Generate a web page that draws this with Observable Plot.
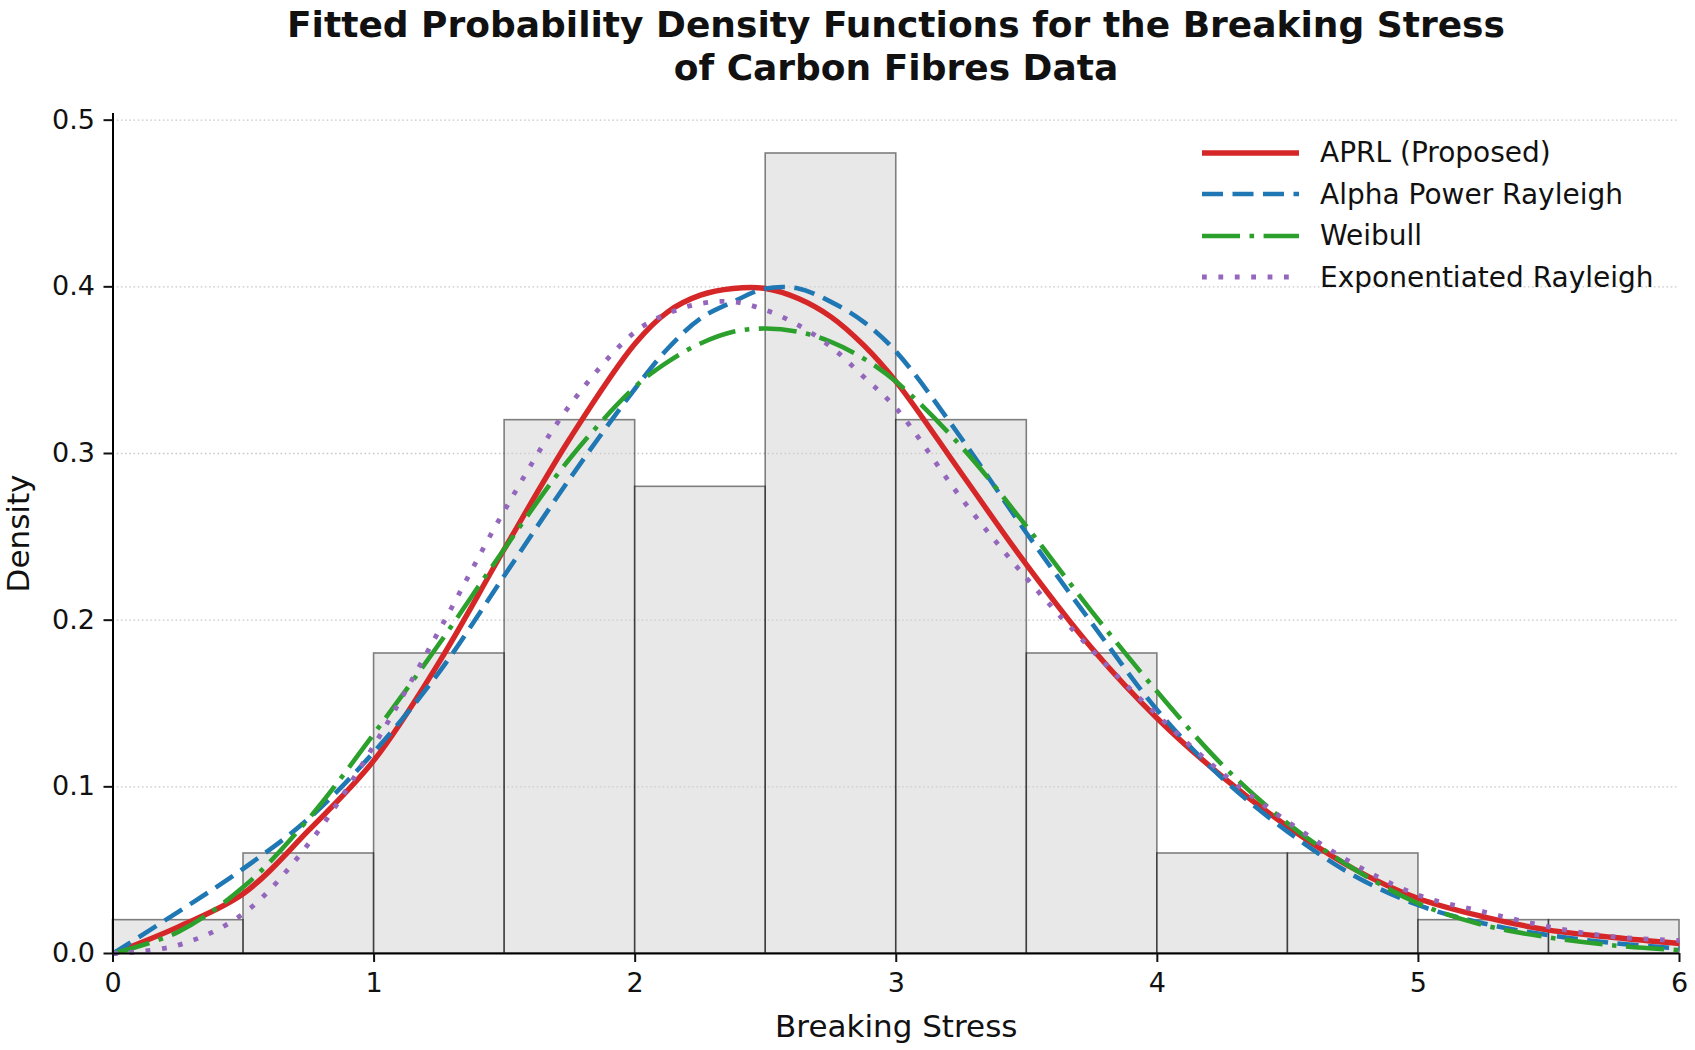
<!DOCTYPE html>
<html>
<head>
<meta charset="utf-8">
<script src="https://cdn.jsdelivr.net/npm/d3@7"></script>
<script src="https://cdn.jsdelivr.net/npm/@observablehq/plot@0.6"></script>
<style>
  html, body { margin: 0; padding: 0; background: #fff; }
  #wrap { position: relative; width: 1695px; height: 1050px; overflow: hidden; font-family: "DejaVu Sans", sans-serif; color: #111; }
  #title { position: absolute; left: 96px; width: 1600px; top: 3px; text-align: center; font-weight: bold; font-size: 36px; line-height: 43px; }
  #chart { position: absolute; left: 0; top: 95px; }
  #legend { position: absolute; left: 1202px; top: 132px; font-size: 28px; }
  .row { display: flex; align-items: center; height: 41.5px; }
  .row svg { flex: none; }
  .row span { margin-left: 21px; white-space: nowrap; }
</style>
</head>
<body>
<div id="wrap">
  <div id="title">Fitted Probability Density Functions for the Breaking Stress<br>of Carbon Fibres Data</div>
  <div id="chart"></div>
  <div id="legend"></div>
</div>
<script>
// Histogram (density scale)
const binStart = [0, 0.5, 1, 1.5, 2, 2.5, 3, 3.5, 4, 4.5, 5, 5.5];
const binWidth = 0.5;
const density = [0.02, 0.06, 0.18, 0.32, 0.28, 0.48, 0.32, 0.18, 0.06, 0.06, 0.02, 0.02];

// Fitted PDF curves
const xs = [0, 0.25, 0.5, 0.75, 1, 1.25, 1.5, 1.75, 2, 2.125, 2.25, 2.375, 2.5, 2.625, 2.75, 2.875, 3, 3.25, 3.5, 3.75, 4, 4.25, 4.5, 4.75, 5, 5.25, 5.5, 5.75, 6];
const aprl    = [0, 0.016, 0.036, 0.074, 0.116, 0.175, 0.243, 0.309, 0.366, 0.385, 0.395, 0.399, 0.399, 0.393, 0.382, 0.365, 0.343, 0.288, 0.233, 0.183, 0.141, 0.106, 0.076, 0.051, 0.033, 0.022, 0.014, 0.0096, 0.006];
const apr     = [0, 0.025, 0.051, 0.081, 0.121, 0.169, 0.227, 0.285, 0.339, 0.363, 0.381, 0.391, 0.399, 0.399, 0.391, 0.379, 0.361, 0.309, 0.252, 0.198, 0.146, 0.105, 0.073, 0.047, 0.029, 0.018, 0.011, 0.0062, 0.003];
const weibull = [0, 0.013, 0.040, 0.081, 0.132, 0.186, 0.243, 0.297, 0.340, 0.355, 0.366, 0.373, 0.375, 0.373, 0.367, 0.357, 0.343, 0.304, 0.256, 0.205, 0.157, 0.113, 0.078, 0.051, 0.030, 0.017, 0.0096, 0.0048, 0.002];
const er      = [0, 0.005, 0.024, 0.066, 0.125, 0.194, 0.266, 0.329, 0.373, 0.384, 0.390, 0.391, 0.386, 0.377, 0.364, 0.346, 0.327, 0.273, 0.225, 0.182, 0.143, 0.108, 0.079, 0.054, 0.035, 0.025, 0.016, 0.010, 0.0078];

const seriesNames = ["APRL (Proposed)", "Alpha Power Rayleigh", "Weibull", "Exponentiated Rayleigh"];
const xTicks = [0, 1, 2, 3, 4, 5, 6];
const yTicks = [0, 0.1, 0.2, 0.3, 0.4, 0.5];

const seriesValues = [aprl, apr, weibull, er];
const styles = [
  {stroke: "#d62728", strokeWidth: 5.4, dash: null},
  {stroke: "#1f77b4", strokeWidth: 4.6, dash: "21,9.5"},
  {stroke: "#2ca02c", strokeWidth: 4.6, dash: "38,9.5,4.6,9.5"},
  {stroke: "#9467bd", strokeWidth: 4.8, dash: "4.8,11.6"}
];

const bars = binStart.map((x0, i) => ({x1: x0, x2: x0 + binWidth, y: density[i]}));
const curves = seriesValues.map((ys, k) => xs.map((x, i) => ({x, y: ys[i], s: seriesNames[k]})));

const lineMarks = curves.map((data, k) => Plot.line(data, {
  x: "x", y: "y", curve: "catmull-rom",
  stroke: styles[k].stroke, strokeWidth: styles[k].strokeWidth,
  strokeDasharray: styles[k].dash, strokeLinecap: "butt", strokeLinejoin: "round"
}));

const chart = Plot.plot({
  width: 1695, height: 955,
  marginLeft: 112.5, marginRight: 16, marginTop: 18, marginBottom: 97,
  style: {fontFamily: "DejaVu Sans, sans-serif", fontSize: "27px", color: "#111", background: "#fff", overflow: "visible"},
  x: {domain: [0, 6]},
  y: {domain: [0, 0.504]},
  marks: [
    Plot.ruleY(yTicks.filter(d => d > 0), {stroke: "#c8c8c8", strokeDasharray: "1.6,2.6", strokeWidth: 1.3}),
    Plot.rectY(bars, {x1: "x1", x2: "x2", y: "y", fill: "#d3d3d3", stroke: "#000", strokeWidth: 1.6, opacity: 0.5}),
    ...lineMarks,
    Plot.ruleX([0], {stroke: "#000", strokeWidth: 2}),
    Plot.ruleY([0], {stroke: "#000", strokeWidth: 2}),
    Plot.axisX({ticks: xTicks, tickFormat: d => String(d), tickSize: 9, tickPadding: 10, strokeWidth: 2, fontSize: 27, label: null}),
    Plot.axisY({ticks: yTicks, tickFormat: d => d.toFixed(1), tickSize: 9, tickPadding: 9, strokeWidth: 2, fontSize: 27, label: null}),
    Plot.axisX({ticks: [], tickSize: 0, label: "Breaking Stress", labelArrow: "none", labelAnchor: "center", labelOffset: 83, fontSize: 31}),
    Plot.axisY({ticks: [], tickSize: 0, label: "Density", labelArrow: "none", labelAnchor: "center", labelOffset: 106, fontSize: 31})
  ]
});
document.getElementById("chart").appendChild(chart);

// Legend (frameless, upper right)
const legend = document.getElementById("legend");
seriesNames.forEach((name, k) => {
  const row = document.createElement("div");
  row.className = "row";
  const st = styles[k];
  row.innerHTML = `<svg width="97" height="20"><line x1="0" x2="97" y1="10" y2="10" stroke="${st.stroke}" stroke-width="${st.strokeWidth}" ${st.dash ? `stroke-dasharray="${st.dash}"` : ""} stroke-linecap="butt"/></svg><span>${name}</span>`;
  legend.appendChild(row);
});
</script>
</body>
</html>
